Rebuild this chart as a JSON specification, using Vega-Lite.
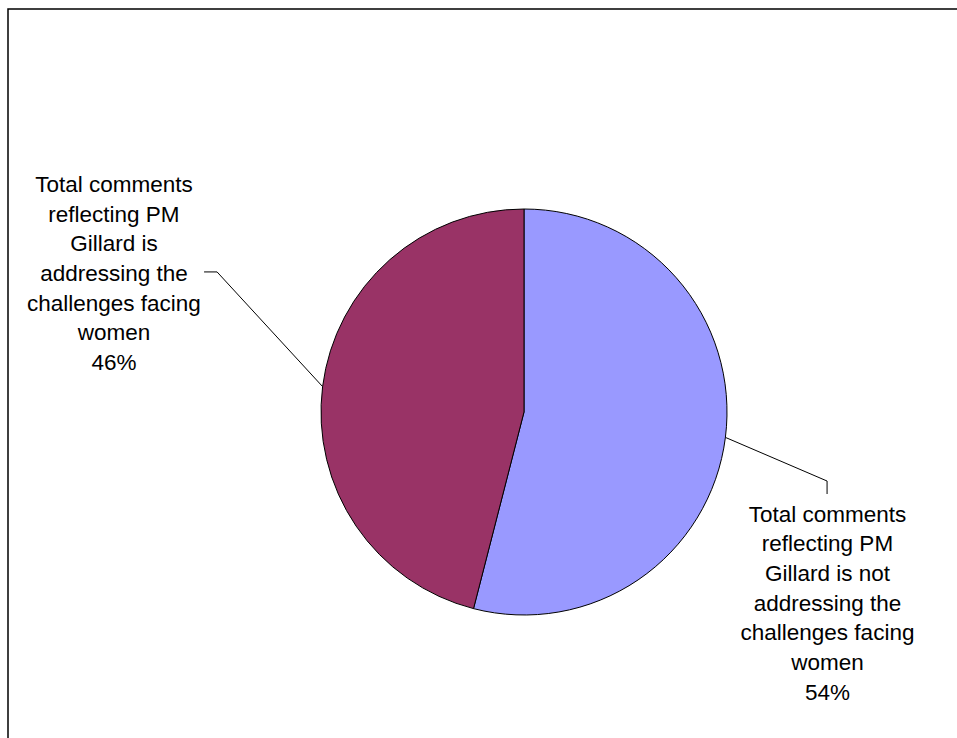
{
  "$schema": "https://vega.github.io/schema/vega-lite/v6.json",
  "autosize": "none",
  "padding": {"left": 8, "top": 9, "right": 0, "bottom": 0},
  "width": 1032,
  "height": 806,
  "background": "white",
  "config": {"view": {"stroke": "#000000", "strokeWidth": 1.5}},
  "datasets": {
    "slices": [
      {"category": "Total comments reflecting PM Gillard is not addressing the challenges facing women", "percent": 54, "order": 1},
      {"category": "Total comments reflecting PM Gillard is addressing the challenges facing women", "percent": 46, "order": 2}
    ],
    "leaders": [
      {"slice": "addressing", "step": 1, "x": -1.576, "y": 0.690},
      {"slice": "addressing", "step": 2, "x": -1.512, "y": 0.690},
      {"slice": "addressing", "step": 3, "x": -0.992, "y": 0.125},
      {"slice": "not addressing", "step": 1, "x": 0.992, "y": -0.125},
      {"slice": "not addressing", "step": 2, "x": 1.493, "y": -0.340},
      {"slice": "not addressing", "step": 3, "x": 1.493, "y": -0.404}
    ],
    "labels": [
      {"label": "Total comments\nreflecting PM\nGillard is\naddressing the\nchallenges facing\nwomen\n46%", "x": -2.020, "y": 1.084},
      {"label": "Total comments\nreflecting PM\nGillard is not\naddressing the\nchallenges facing\nwomen\n54%", "x": 1.495, "y": -0.540}
    ]
  },
  "layer": [
    {
      "data": {"name": "slices"},
      "mark": {"type": "arc", "outerRadius": 203, "stroke": "#000000", "strokeWidth": 1},
      "encoding": {
        "theta": {"field": "percent", "type": "quantitative", "stack": true},
        "order": {"field": "order", "type": "quantitative"},
        "color": {
          "field": "category",
          "type": "nominal",
          "scale": {
            "domain": [
              "Total comments reflecting PM Gillard is not addressing the challenges facing women",
              "Total comments reflecting PM Gillard is addressing the challenges facing women"
            ],
            "range": ["#9999FF", "#993366"]
          },
          "legend": null
        }
      }
    },
    {
      "data": {"name": "leaders"},
      "mark": {"type": "line", "color": "#000000", "strokeWidth": 1},
      "encoding": {
        "x": {"field": "x", "type": "quantitative", "scale": {"domain": [-2.5419, 2.5419], "nice": false, "zero": false}, "axis": null},
        "y": {"field": "y", "type": "quantitative", "scale": {"domain": [-1.9852, 1.9852], "nice": false, "zero": false}, "axis": null},
        "detail": {"field": "slice", "type": "nominal"},
        "order": {"field": "step", "type": "quantitative"}
      }
    },
    {
      "data": {"name": "labels"},
      "mark": {"type": "text", "align": "center", "baseline": "alphabetic", "lineBreak": "\n", "lineHeight": 29.7, "font": "Liberation Sans", "fontSize": 22.5, "color": "#000000"},
      "encoding": {
        "x": {"field": "x", "type": "quantitative", "scale": {"domain": [-2.5419, 2.5419], "nice": false, "zero": false}, "axis": null},
        "y": {"field": "y", "type": "quantitative", "scale": {"domain": [-1.9852, 1.9852], "nice": false, "zero": false}, "axis": null},
        "text": {"field": "label", "type": "nominal"}
      }
    }
  ]
}
